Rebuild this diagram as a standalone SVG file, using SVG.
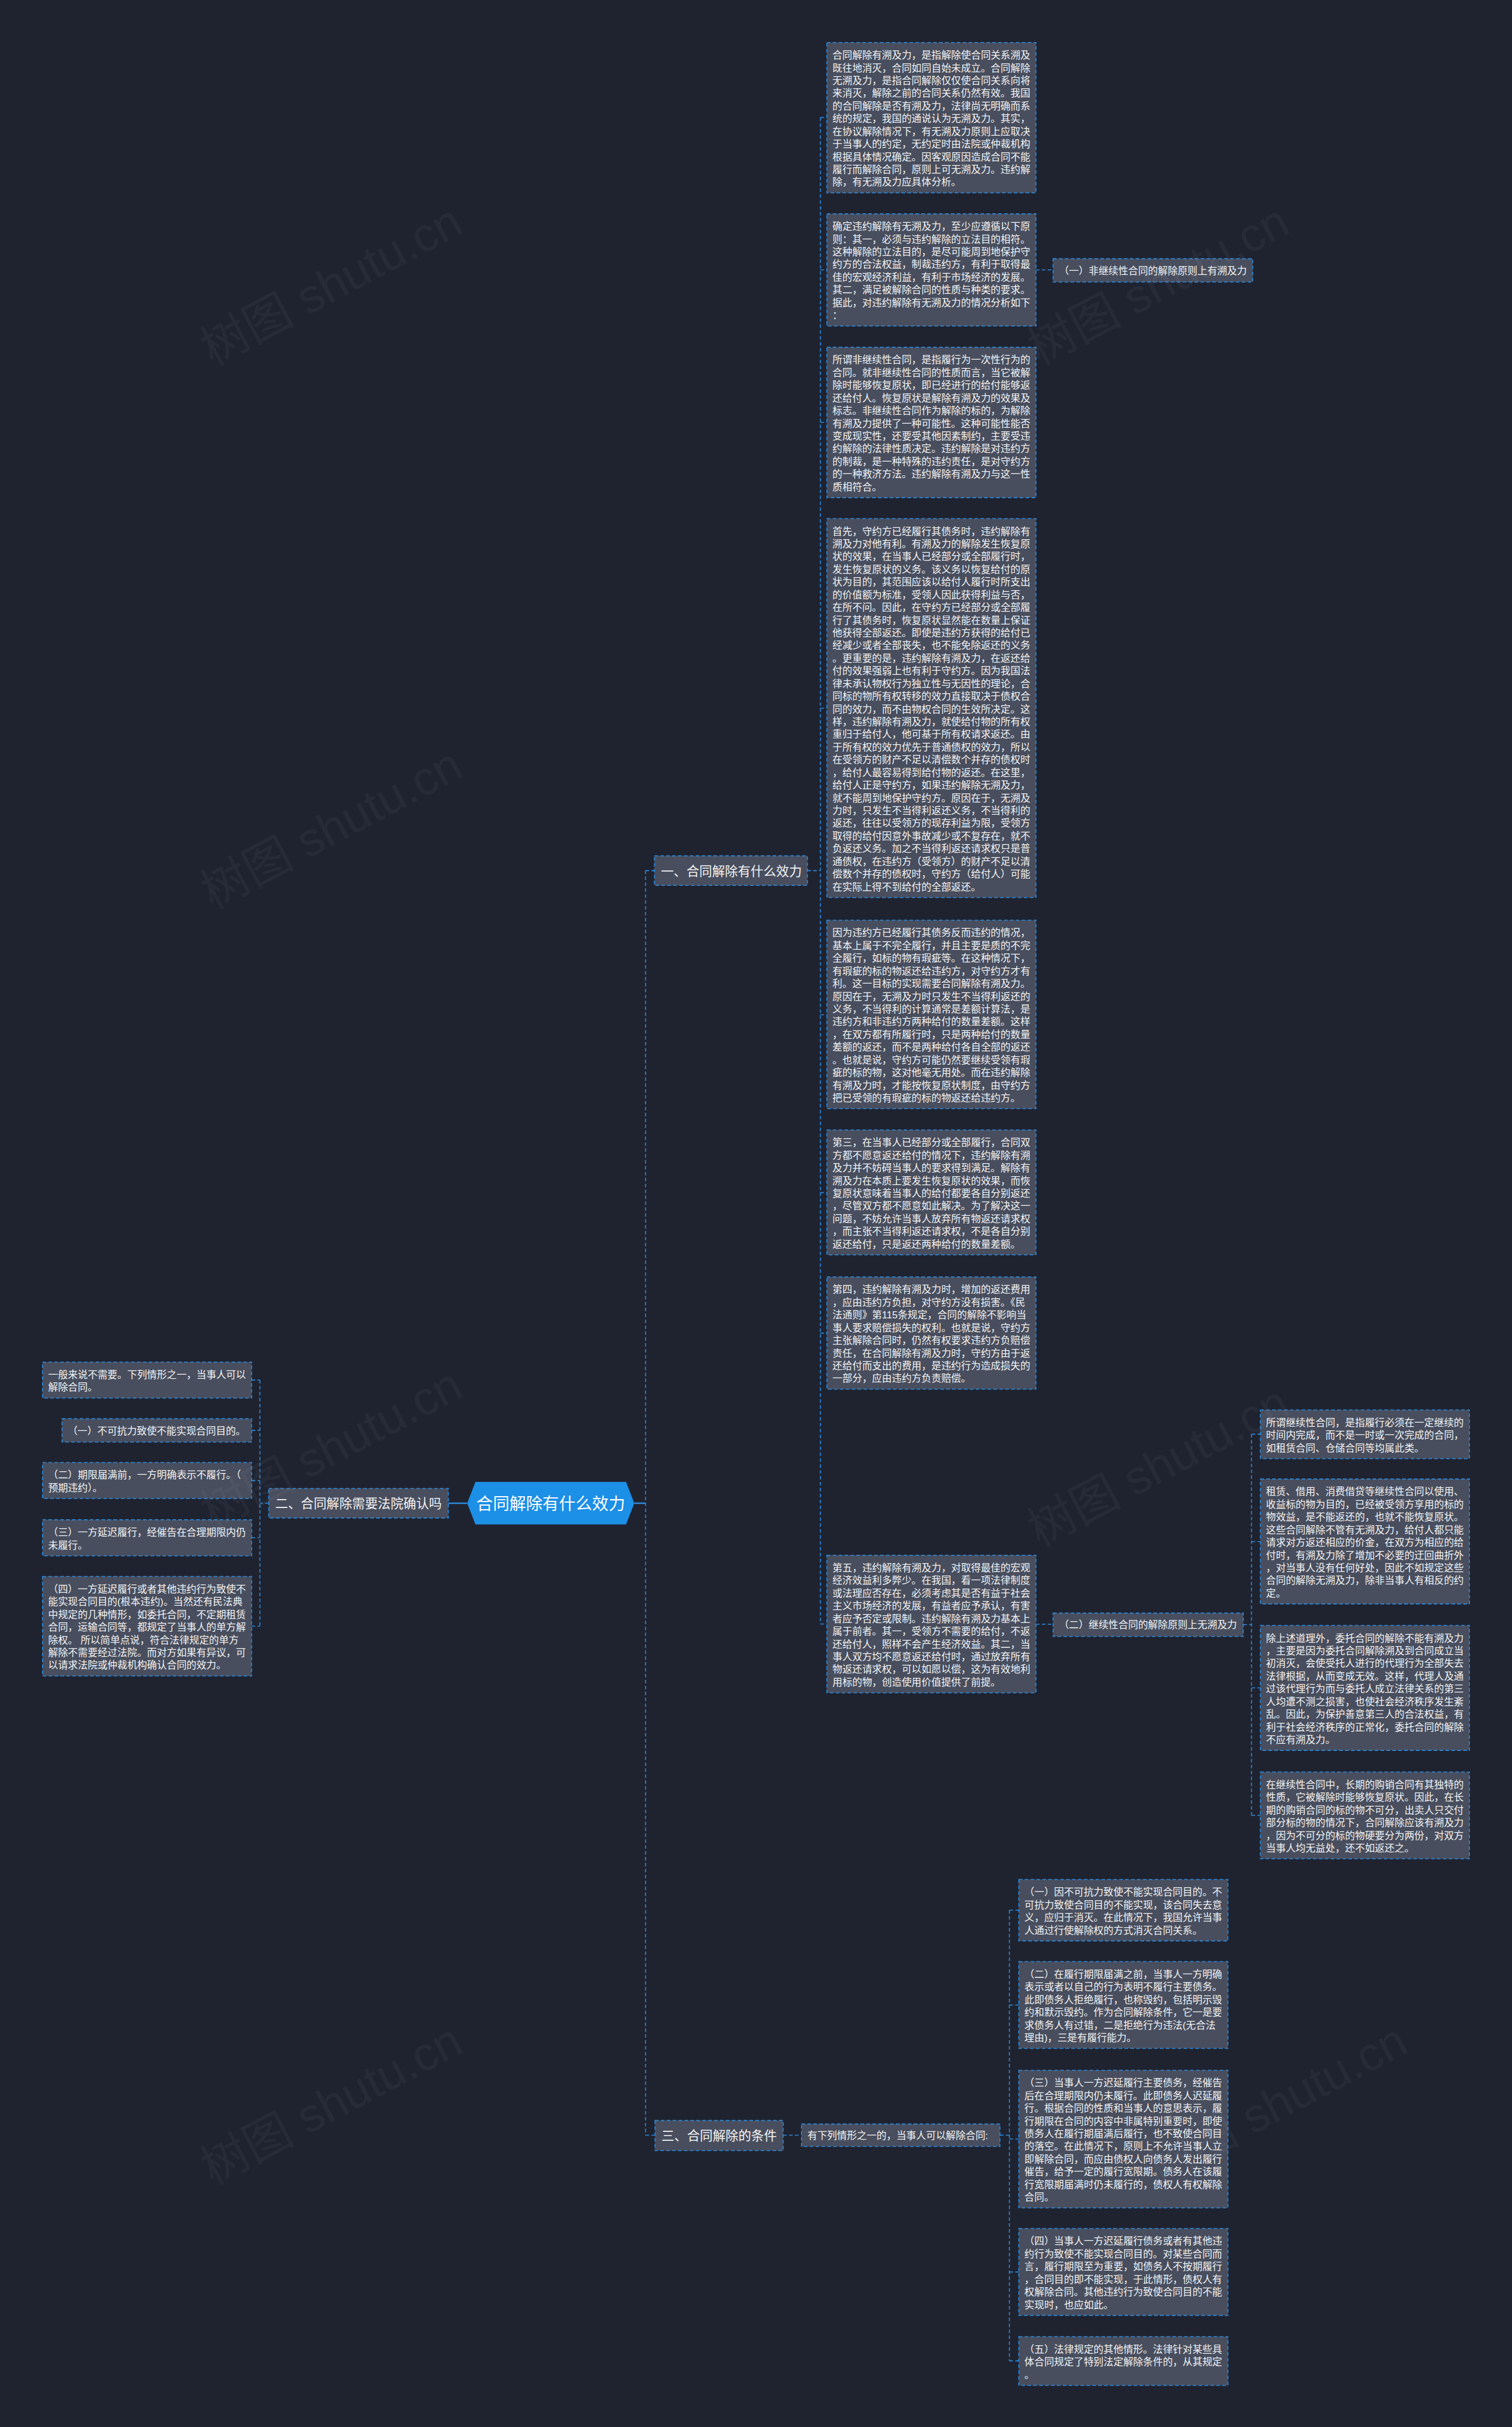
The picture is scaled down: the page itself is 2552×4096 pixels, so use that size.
<svg xmlns="http://www.w3.org/2000/svg" width="2552" height="4096" viewBox="0 0 2552 4096">
<style>
.bx{fill:#484e5e;stroke:#2b8ce0;stroke-width:1.6;stroke-dasharray:6 4}
.t{font-family:"Liberation Sans","Noto Sans CJK SC",sans-serif;font-size:16.75px;fill:#f4f4f4}
.h{font-family:"Liberation Sans","Noto Sans CJK SC",sans-serif;font-size:21.7px;fill:#f4f4f4}
.cn{fill:none;stroke:#2b8ce0;stroke-width:1.6;stroke-dasharray:6 4}
.wm{font-family:"Liberation Sans","Noto Sans CJK SC",sans-serif;font-size:80px;fill:#ffffff;opacity:0.035}
</style>
<rect x="0" y="0" width="2552" height="4096" fill="#1f2330"/>
<g transform="scale(0.99687,0.99684)">
<g id="connectors">
<path d="M759 2545 H791" fill="none" stroke="#2b8ce0" stroke-width="2.5"/>
<path d="M1074 2545 H1093" fill="none" stroke="#2b8ce0" stroke-width="2.5"/>
<path class="cn" d="M1093 1474 V3615 M1093 1474 H1108 M1093 3615 H1109"/>
<path class="cn" d="M1367 1474 H1389 M1389 199 V2749.5 M1389 199 H1400 M1389 457 H1400 M1389 715 H1400 M1389 1199 H1400 M1389 1718 H1400 M1389 2019 H1400 M1389 2257 H1400 M1389 2749.5 H1400"/>
<path class="cn" d="M1754 457 H1783 M1754 2750 H1783"/>
<path class="cn" d="M2105 2750.5 H2119 M2119 2428 V3073.5 M2119 2428 H2134 M2119 2610 H2134 M2119 2857.5 H2134 M2119 3073.5 H2134"/>
<path class="cn" d="M455 2545 H440 M440 2336.5 V2753 M426 2336.5 H440 M426 2421.75 H440 M426 2506.5 H440 M426 2603.5 H440 M426 2753.25 H440"/>
<path class="cn" d="M1326 3615 H1357 M1693 3615 H1709 M1709 3234 V3997 M1709 3234 H1725 M1709 3394.5 H1725 M1709 3621.5 H1725 M1709 3846.5 H1725 M1709 3997 H1725"/>
</g>

<g id="root">
<polygon points="791,2545 805,2509 1060,2509 1074,2545 1060,2581 805,2581" fill="#1c8fe6"/>
<text x="932.5" y="2555.6" text-anchor="middle" font-family="Liberation Sans, Noto Sans CJK SC, sans-serif" font-size="28" fill="#ffffff">合同解除有什么效力</text>
</g>

<g id="h1"><rect class="bx" x="1108" y="1449" width="259" height="50"/><text class="h" x="1119" y="1482.2">一、合同解除有什么效力</text></g>
<g id="h2"><rect class="bx" x="455" y="2520" width="304" height="50"/><text class="h" x="466" y="2553.2">二、合同解除需要法院确认吗</text></g>
<g id="h3"><rect class="bx" x="1109" y="3590" width="217" height="51"/><text class="h" x="1120" y="3623.7">三、合同解除的条件</text></g>
<g id="sub3"><rect class="bx" x="1357" y="3596" width="336" height="38"/><text class="t" x="1367" y="3621.4">有下列情形之一的，当事人可以解除合同:</text></g>

<g id="b1"><rect class="bx" x="1400" y="72" width="354" height="254.5"/>
<text class="t" x="1409.5" y="99.4"><tspan x="1409.5">合同解除有溯及力，是指解除使合同关系溯及</tspan><tspan x="1409.5" dy="21.5">既往地消灭，合同如同自始未成立。合同解除</tspan><tspan x="1409.5" dy="21.5">无溯及力，是指合同解除仅仅使合同关系向将</tspan><tspan x="1409.5" dy="21.5">来消灭，解除之前的合同关系仍然有效。我国</tspan><tspan x="1409.5" dy="21.5">的合同解除是否有溯及力，法律尚无明确而系</tspan><tspan x="1409.5" dy="21.5">统的规定，我国的通说认为无溯及力。其实，</tspan><tspan x="1409.5" dy="21.5">在协议解除情况下，有无溯及力原则上应取决</tspan><tspan x="1409.5" dy="21.5">于当事人的约定，无约定时由法院或仲裁机构</tspan><tspan x="1409.5" dy="21.5">根据具体情况确定。因客观原因造成合同不能</tspan><tspan x="1409.5" dy="21.5">履行而解除合同，原则上可无溯及力。违约解</tspan><tspan x="1409.5" dy="21.5">除，有无溯及力应具体分析。</tspan></text></g>

<g id="b2"><rect class="bx" x="1400" y="362" width="354" height="190"/>
<text class="t" x="1409.5" y="389.4"><tspan x="1409.5">确定违约解除有无溯及力，至少应遵循以下原</tspan><tspan x="1409.5" dy="21.5">则：其一，必须与违约解除的立法目的相符。</tspan><tspan x="1409.5" dy="21.5">这种解除的立法目的，是尽可能周到地保护守</tspan><tspan x="1409.5" dy="21.5">约方的合法权益，制裁违约方，有利于取得最</tspan><tspan x="1409.5" dy="21.5">佳的宏观经济利益，有利于市场经济的发展。</tspan><tspan x="1409.5" dy="21.5">其二，满足被解除合同的性质与种类的要求。</tspan><tspan x="1409.5" dy="21.5">据此，对违约解除有无溯及力的情况分析如下</tspan><tspan x="1409.5" dy="21.5">：</tspan></text></g>

<g id="n1"><rect class="bx" x="1783" y="438" width="338" height="39.5"/><text class="t" x="1793" y="464.2">（一）非继续性合同的解除原则上有溯及力</text></g>

<g id="b3"><rect class="bx" x="1400" y="588" width="354" height="254.5"/>
<text class="t" x="1409.5" y="615.4"><tspan x="1409.5">所谓非继续性合同，是指履行为一次性行为的</tspan><tspan x="1409.5" dy="21.5">合同。就非继续性合同的性质而言，当它被解</tspan><tspan x="1409.5" dy="21.5">除时能够恢复原状，即已经进行的给付能够返</tspan><tspan x="1409.5" dy="21.5">还给付人。恢复原状是解除有溯及力的效果及</tspan><tspan x="1409.5" dy="21.5">标志。非继续性合同作为解除的标的，为解除</tspan><tspan x="1409.5" dy="21.5">有溯及力提供了一种可能性。这种可能性能否</tspan><tspan x="1409.5" dy="21.5">变成现实性，还要受其他因素制约，主要受违</tspan><tspan x="1409.5" dy="21.5">约解除的法律性质决定。违约解除是对违约方</tspan><tspan x="1409.5" dy="21.5">的制裁，是一种特殊的违约责任，是对守约方</tspan><tspan x="1409.5" dy="21.5">的一种救济方法。违约解除有溯及力与这一性</tspan><tspan x="1409.5" dy="21.5">质相符合。</tspan></text></g>

<g id="b4"><rect class="bx" x="1400" y="878" width="354" height="641.5"/>
<text class="t" x="1409.5" y="905.4"><tspan x="1409.5">首先，守约方已经履行其债务时，违约解除有</tspan><tspan x="1409.5" dy="21.5">溯及力对他有利。有溯及力的解除发生恢复原</tspan><tspan x="1409.5" dy="21.5">状的效果，在当事人已经部分或全部履行时，</tspan><tspan x="1409.5" dy="21.5">发生恢复原状的义务。该义务以恢复给付的原</tspan><tspan x="1409.5" dy="21.5">状为目的，其范围应该以给付人履行时所支出</tspan><tspan x="1409.5" dy="21.5">的价值额为标准，受领人因此获得利益与否，</tspan><tspan x="1409.5" dy="21.5">在所不问。因此，在守约方已经部分或全部履</tspan><tspan x="1409.5" dy="21.5">行了其债务时，恢复原状显然能在数量上保证</tspan><tspan x="1409.5" dy="21.5">他获得全部返还。即使是违约方获得的给付已</tspan><tspan x="1409.5" dy="21.5">经减少或者全部丧失，也不能免除返还的义务</tspan><tspan x="1409.5" dy="21.5">。更重要的是，违约解除有溯及力，在返还给</tspan><tspan x="1409.5" dy="21.5">付的效果强弱上也有利于守约方。因为我国法</tspan><tspan x="1409.5" dy="21.5">律未承认物权行为独立性与无因性的理论，合</tspan><tspan x="1409.5" dy="21.5">同标的物所有权转移的效力直接取决于债权合</tspan><tspan x="1409.5" dy="21.5">同的效力，而不由物权合同的生效所决定。这</tspan><tspan x="1409.5" dy="21.5">样，违约解除有溯及力，就使给付物的所有权</tspan><tspan x="1409.5" dy="21.5">重归于给付人，他可基于所有权请求返还。由</tspan><tspan x="1409.5" dy="21.5">于所有权的效力优先于普通债权的效力，所以</tspan><tspan x="1409.5" dy="21.5">在受领方的财产不足以清偿数个并存的债权时</tspan><tspan x="1409.5" dy="21.5">，给付人最容易得到给付物的返还。在这里，</tspan><tspan x="1409.5" dy="21.5">给付人正是守约方，如果违约解除无溯及力，</tspan><tspan x="1409.5" dy="21.5">就不能周到地保护守约方。原因在于，无溯及</tspan><tspan x="1409.5" dy="21.5">力时，只发生不当得利返还义务，不当得利的</tspan><tspan x="1409.5" dy="21.5">返还，往往以受领方的现存利益为限，受领方</tspan><tspan x="1409.5" dy="21.5">取得的给付因意外事故减少或不复存在，就不</tspan><tspan x="1409.5" dy="21.5">负返还义务。加之不当得利返还请求权只是普</tspan><tspan x="1409.5" dy="21.5">通债权，在违约方（受领方）的财产不足以清</tspan><tspan x="1409.5" dy="21.5">偿数个并存的债权时，守约方（给付人）可能</tspan><tspan x="1409.5" dy="21.5">在实际上得不到给付的全部返还。</tspan></text></g>

<g id="b5"><rect class="bx" x="1400" y="1558" width="354" height="319"/>
<text class="t" x="1409.5" y="1585.4"><tspan x="1409.5">因为违约方已经履行其债务反而违约的情况，</tspan><tspan x="1409.5" dy="21.5">基本上属于不完全履行，并且主要是质的不完</tspan><tspan x="1409.5" dy="21.5">全履行，如标的物有瑕疵等。在这种情况下，</tspan><tspan x="1409.5" dy="21.5">有瑕疵的标的物返还给违约方，对守约方才有</tspan><tspan x="1409.5" dy="21.5">利。这一目标的实现需要合同解除有溯及力。</tspan><tspan x="1409.5" dy="21.5">原因在于，无溯及力时只发生不当得利返还的</tspan><tspan x="1409.5" dy="21.5">义务，不当得利的计算通常是差额计算法，是</tspan><tspan x="1409.5" dy="21.5">违约方和非违约方两种给付的数量差额。这样</tspan><tspan x="1409.5" dy="21.5">，在双方都有所履行时，只是两种给付的数量</tspan><tspan x="1409.5" dy="21.5">差额的返还，而不是两种给付各自全部的返还</tspan><tspan x="1409.5" dy="21.5">。也就是说，守约方可能仍然要继续受领有瑕</tspan><tspan x="1409.5" dy="21.5">疵的标的物，这对他毫无用处。而在违约解除</tspan><tspan x="1409.5" dy="21.5">有溯及力时，才能按恢复原状制度，由守约方</tspan><tspan x="1409.5" dy="21.5">把已受领的有瑕疵的标的物返还给违约方。</tspan></text></g>

<g id="b6"><rect class="bx" x="1400" y="1913" width="354" height="211.5"/>
<text class="t" x="1409.5" y="1940.4"><tspan x="1409.5">第三，在当事人已经部分或全部履行，合同双</tspan><tspan x="1409.5" dy="21.5">方都不愿意返还给付的情况下，违约解除有溯</tspan><tspan x="1409.5" dy="21.5">及力并不妨碍当事人的要求得到满足。解除有</tspan><tspan x="1409.5" dy="21.5">溯及力在本质上要发生恢复原状的效果，而恢</tspan><tspan x="1409.5" dy="21.5">复原状意味着当事人的给付都要各自分别返还</tspan><tspan x="1409.5" dy="21.5">，尽管双方都不愿意如此解决。为了解决这一</tspan><tspan x="1409.5" dy="21.5">问题，不妨允许当事人放弃所有物返还请求权</tspan><tspan x="1409.5" dy="21.5">，而主张不当得利返还请求权，不是各自分别</tspan><tspan x="1409.5" dy="21.5">返还给付，只是返还两种给付的数量差额。</tspan></text></g>

<g id="b7"><rect class="bx" x="1400" y="2162" width="354" height="190"/>
<text class="t" x="1409.5" y="2189.4"><tspan x="1409.5">第四，违约解除有溯及力时，增加的返还费用</tspan><tspan x="1409.5" dy="21.5">，应由违约方负担，对守约方没有损害。《民</tspan><tspan x="1409.5" dy="21.5">法通则》第115条规定，合同的解除不影响当</tspan><tspan x="1409.5" dy="21.5">事人要求赔偿损失的权利。也就是说，守约方</tspan><tspan x="1409.5" dy="21.5">主张解除合同时，仍然有权要求违约方负赔偿</tspan><tspan x="1409.5" dy="21.5">责任，在合同解除有溯及力时，守约方由于返</tspan><tspan x="1409.5" dy="21.5">还给付而支出的费用，是违约行为造成损失的</tspan><tspan x="1409.5" dy="21.5">一部分，应由违约方负责赔偿。</tspan></text></g>

<g id="b8"><rect class="bx" x="1400" y="2633" width="354" height="233"/>
<text class="t" x="1409.5" y="2660.4"><tspan x="1409.5">第五，违约解除有溯及力，对取得最佳的宏观</tspan><tspan x="1409.5" dy="21.5">经济效益利多弊少。在我国，看一项法律制度</tspan><tspan x="1409.5" dy="21.5">或法理应否存在，必须考虑其是否有益于社会</tspan><tspan x="1409.5" dy="21.5">主义市场经济的发展，有益者应予承认，有害</tspan><tspan x="1409.5" dy="21.5">者应予否定或限制。违约解除有溯及力基本上</tspan><tspan x="1409.5" dy="21.5">属于前者。其一，受领方不需要的给付，不返</tspan><tspan x="1409.5" dy="21.5">还给付人，照样不会产生经济效益。其二，当</tspan><tspan x="1409.5" dy="21.5">事人双方均不愿意返还给付时，通过放弃所有</tspan><tspan x="1409.5" dy="21.5">物返还请求权，可以如愿以偿，这为有效地利</tspan><tspan x="1409.5" dy="21.5">用标的物，创造使用价值提供了前提。</tspan></text></g>

<g id="n2"><rect class="bx" x="1783" y="2731" width="322" height="39.5"/><text class="t" x="1793" y="2757.2">（二）继续性合同的解除原则上无溯及力</text></g>

<g id="r1"><rect class="bx" x="2134" y="2387" width="354" height="82.5"/>
<text class="t" x="2143.5" y="2414.4"><tspan x="2143.5">所谓继续性合同，是指履行必须在一定继续的</tspan><tspan x="2143.5" dy="21.5">时间内完成，而不是一时或一次完成的合同，</tspan><tspan x="2143.5" dy="21.5">如租赁合同、仓储合同等均属此类。</tspan></text></g>

<g id="r2"><rect class="bx" x="2134" y="2504" width="354" height="211.5"/>
<text class="t" x="2143.5" y="2531.4"><tspan x="2143.5">租赁、借用、消费借贷等继续性合同以使用、</tspan><tspan x="2143.5" dy="21.5">收益标的物为目的，已经被受领方享用的标的</tspan><tspan x="2143.5" dy="21.5">物效益，是不能返还的，也就不能恢复原状。</tspan><tspan x="2143.5" dy="21.5">这些合同解除不管有无溯及力，给付人都只能</tspan><tspan x="2143.5" dy="21.5">请求对方返还相应的价金，在双方为相应的给</tspan><tspan x="2143.5" dy="21.5">付时，有溯及力除了增加不必要的迂回曲折外</tspan><tspan x="2143.5" dy="21.5">，对当事人没有任何好处，因此不如规定这些</tspan><tspan x="2143.5" dy="21.5">合同的解除无溯及力，除非当事人有相反的约</tspan><tspan x="2143.5" dy="21.5">定。</tspan></text></g>

<g id="r3"><rect class="bx" x="2134" y="2752" width="354" height="211.5"/>
<text class="t" x="2143.5" y="2779.4"><tspan x="2143.5">除上述道理外，委托合同的解除不能有溯及力</tspan><tspan x="2143.5" dy="21.5">，主要是因为委托合同解除溯及到合同成立当</tspan><tspan x="2143.5" dy="21.5">初消灭，会使受托人进行的代理行为全部失去</tspan><tspan x="2143.5" dy="21.5">法律根据，从而变成无效。这样，代理人及通</tspan><tspan x="2143.5" dy="21.5">过该代理行为而与委托人成立法律关系的第三</tspan><tspan x="2143.5" dy="21.5">人均遭不测之损害，也使社会经济秩序发生紊</tspan><tspan x="2143.5" dy="21.5">乱。因此，为保护善意第三人的合法权益，有</tspan><tspan x="2143.5" dy="21.5">利于社会经济秩序的正常化，委托合同的解除</tspan><tspan x="2143.5" dy="21.5">不应有溯及力。</tspan></text></g>

<g id="r4"><rect class="bx" x="2134" y="3000" width="354" height="147"/>
<text class="t" x="2143.5" y="3027.4"><tspan x="2143.5">在继续性合同中，长期的购销合同有其独特的</tspan><tspan x="2143.5" dy="21.5">性质，它被解除时能够恢复原状。因此，在长</tspan><tspan x="2143.5" dy="21.5">期的购销合同的标的物不可分，出卖人只交付</tspan><tspan x="2143.5" dy="21.5">部分标的物的情况下，合同解除应该有溯及力</tspan><tspan x="2143.5" dy="21.5">，因为不可分的标的物硬要分为两份，对双方</tspan><tspan x="2143.5" dy="21.5">当事人均无益处，还不如返还之。</tspan></text></g>

<g id="l0"><rect class="bx" x="72" y="2306" width="354" height="61"/>
<text class="t" x="81.5" y="2333.4"><tspan x="81.5">一般来说不需要。下列情形之一，当事人可以</tspan><tspan x="81.5" dy="21.5">解除合同。</tspan></text></g>
<g id="l1"><rect class="bx" x="105" y="2402" width="321" height="39.5"/><text class="t" x="114.5" y="2428.2">（一）不可抗力致使不能实现合同目的。</text></g>
<g id="l2"><rect class="bx" x="72" y="2476" width="354" height="61"/>
<text class="t" x="81.5" y="2503.4"><tspan x="81.5">（二）期限届满前，一方明确表示不履行。（</tspan><tspan x="81.5" dy="21.5">预期违约）。</tspan></text></g>
<g id="l3"><rect class="bx" x="72" y="2573" width="354" height="61"/>
<text class="t" x="81.5" y="2600.4"><tspan x="81.5">（三）一方延迟履行，经催告在合理期限内仍</tspan><tspan x="81.5" dy="21.5">未履行。</tspan></text></g>
<g id="l4"><rect class="bx" x="72" y="2669" width="354" height="168.5"/>
<text class="t" x="81.5" y="2696.4"><tspan x="81.5">（四）一方延迟履行或者其他违约行为致使不</tspan><tspan x="81.5" dy="21.5">能实现合同目的(根本违约)。当然还有民法典</tspan><tspan x="81.5" dy="21.5">中规定的几种情形，如委托合同，不定期租赁</tspan><tspan x="81.5" dy="21.5">合同，运输合同等，都规定了当事人的单方解</tspan><tspan x="81.5" dy="21.5">除权。 所以简单点说，符合法律规定的单方</tspan><tspan x="81.5" dy="21.5">解除不需要经过法院。而对方如果有异议，可</tspan><tspan x="81.5" dy="21.5">以请求法院或仲裁机构确认合同的效力。</tspan></text></g>

<g id="d1"><rect class="bx" x="1725" y="3182" width="354" height="104"/>
<text class="t" x="1734.5" y="3209.4"><tspan x="1734.5">（一）因不可抗力致使不能实现合同目的。不</tspan><tspan x="1734.5" dy="21.5">可抗力致使合同目的不能实现，该合同失去意</tspan><tspan x="1734.5" dy="21.5">义，应归于消灭。在此情况下，我国允许当事</tspan><tspan x="1734.5" dy="21.5">人通过行使解除权的方式消灭合同关系。</tspan></text></g>
<g id="d2"><rect class="bx" x="1725" y="3321" width="354" height="147"/>
<text class="t" x="1734.5" y="3348.4"><tspan x="1734.5">（二）在履行期限届满之前，当事人一方明确</tspan><tspan x="1734.5" dy="21.5">表示或者以自己的行为表明不履行主要债务。</tspan><tspan x="1734.5" dy="21.5">此即债务人拒绝履行，也称毁约，包括明示毁</tspan><tspan x="1734.5" dy="21.5">约和默示毁约。作为合同解除条件，它一是要</tspan><tspan x="1734.5" dy="21.5">求债务人有过错，二是拒绝行为违法(无合法</tspan><tspan x="1734.5" dy="21.5">理由)，三是有履行能力。</tspan></text></g>
<g id="d3"><rect class="bx" x="1725" y="3505" width="354" height="233"/>
<text class="t" x="1734.5" y="3532.4"><tspan x="1734.5">（三）当事人一方迟延履行主要债务，经催告</tspan><tspan x="1734.5" dy="21.5">后在合理期限内仍未履行。此即债务人迟延履</tspan><tspan x="1734.5" dy="21.5">行。根据合同的性质和当事人的意思表示，履</tspan><tspan x="1734.5" dy="21.5">行期限在合同的内容中非属特别重要时，即使</tspan><tspan x="1734.5" dy="21.5">债务人在履行期届满后履行，也不致使合同目</tspan><tspan x="1734.5" dy="21.5">的落空。在此情况下，原则上不允许当事人立</tspan><tspan x="1734.5" dy="21.5">即解除合同，而应由债权人向债务人发出履行</tspan><tspan x="1734.5" dy="21.5">催告，给予一定的履行宽限期。债务人在该履</tspan><tspan x="1734.5" dy="21.5">行宽限期届满时仍未履行的，债权人有权解除</tspan><tspan x="1734.5" dy="21.5">合同。</tspan></text></g>
<g id="d4"><rect class="bx" x="1725" y="3773" width="354" height="147"/>
<text class="t" x="1734.5" y="3800.4"><tspan x="1734.5">（四）当事人一方迟延履行债务或者有其他违</tspan><tspan x="1734.5" dy="21.5">约行为致使不能实现合同目的。对某些合同而</tspan><tspan x="1734.5" dy="21.5">言，履行期限至为重要，如债务人不按期履行</tspan><tspan x="1734.5" dy="21.5">，合同目的即不能实现，于此情形，债权人有</tspan><tspan x="1734.5" dy="21.5">权解除合同。其他违约行为致使合同目的不能</tspan><tspan x="1734.5" dy="21.5">实现时，也应如此。</tspan></text></g>
<g id="d5"><rect class="bx" x="1725" y="3956" width="354" height="82.5"/>
<text class="t" x="1734.5" y="3983.4"><tspan x="1734.5">（五）法律规定的其他情形。法律针对某些具</tspan><tspan x="1734.5" dy="21.5">体合同规定了特别法定解除条件的，从其规定</tspan><tspan x="1734.5" dy="21.5">。</tspan></text></g>

<g id="watermarks">
<text class="wm" transform="translate(360,620) rotate(-28)">树图 shutu.cn</text>
<text class="wm" transform="translate(360,1540) rotate(-28)">树图 shutu.cn</text>
<text class="wm" transform="translate(360,2590) rotate(-28)">树图 shutu.cn</text>
<text class="wm" transform="translate(360,3700) rotate(-28)">树图 shutu.cn</text>
<text class="wm" transform="translate(1760,620) rotate(-28)">树图 shutu.cn</text>
<text class="wm" transform="translate(1760,2620) rotate(-28)">树图 shutu.cn</text>
<text class="wm" transform="translate(1960,3700) rotate(-28)">树图 shutu.cn</text>
</g>
</g>
</svg>
